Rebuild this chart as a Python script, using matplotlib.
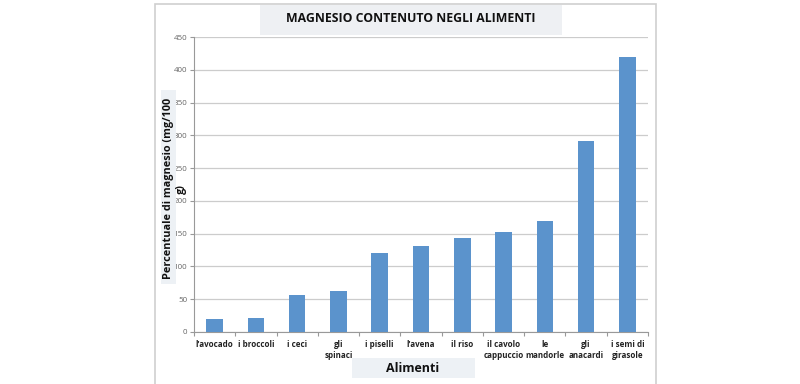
import matplotlib.pyplot as plt
import matplotlib.patches as patches
import numpy as np

plt.rcParams['font.family'] = ['Open Sans', 'DejaVu Sans']

alimenti = ["l'avocado", "i broccoli", "i ceci", "gli\nspinaci", "i piselli", "l'avena",
            "il riso", "il cavolo\ncappuccio", "le\nmandorle", "gli\nanacardi", "i semi di\ngirasole"]
magnesio = [20, 21, 56, 62, 120, 131, 143, 152, 170, 292, 420]
yticks = [0, 50, 100, 150, 200, 250, 300, 350, 400, 450]

fig = plt.figure(figsize=(8, 3.84), dpi=100)

# outer frame
fig.patches.append(patches.Rectangle((155 / 800, -0.01), (656 - 155) / 800, (384 - 4) / 384 + 0.01,
                                     transform=fig.transFigure, fill=False,
                                     edgecolor='#cfcfcf', linewidth=1.2))

ax = fig.add_axes([194 / 800, 52 / 384, (648 - 194) / 800, (332 - 37) / 384])
x = np.arange(len(alimenti))
ax.bar(x, magnesio, width=0.4, color='#5b93cc', zorder=3)

ax.set_xlim(-0.5, len(alimenti) - 0.5)
ax.set_ylim(0, 450)
ax.set_yticks(yticks)
ax.set_yticklabels([str(v) for v in yticks], fontsize=5.8, color='#666666')
ax.yaxis.grid(True, color='#cccccc', linewidth=0.9, zorder=0)
ax.tick_params(axis='y', length=3, color='#999999', width=0.8, pad=2)

ax.set_xticks(np.arange(-0.5, len(alimenti), 1.0))
ax.set_xticklabels([])
ax.tick_params(axis='x', length=3, color='#999999', width=0.8)
for i, lab in enumerate(alimenti):
    ax.text(i, -12, lab, ha='center', va='top', fontsize=5.8, fontweight='bold',
            color='#222222', linespacing=1.3)

for s in ['top', 'right']:
    ax.spines[s].set_visible(False)
ax.spines['left'].set_color('#999999')
ax.spines['bottom'].set_color('#999999')
ax.spines['left'].set_linewidth(0.8)
ax.spines['bottom'].set_linewidth(0.8)

# title box
fig.patches.append(patches.Rectangle((260 / 800, (384 - 35) / 384), (562 - 260) / 800, 30 / 384,
                                     transform=fig.transFigure, facecolor='#eef0f3', edgecolor='none'))
fig.text(411 / 800, (384 - 19) / 384, 'MAGNESIO CONTENUTO NEGLI ALIMENTI', ha='center', va='center',
         fontsize=8.8, fontweight='bold', color='#111111')

# y label box
fig.patches.append(patches.Rectangle((161 / 800, (384 - 284) / 384), 15 / 800, 194 / 384,
                                     transform=fig.transFigure, facecolor='#edf1f5', edgecolor='none'))
fig.text(169 / 800, (384 - 188) / 384, 'Percentuale di magnesio (mg/100', rotation=90,
         ha='center', va='center', fontsize=7.8, fontweight='bold', color='#111111')
fig.text(181 / 800, (384 - 189) / 384, 'g)', rotation=90,
         ha='center', va='center', fontsize=7.8, fontweight='bold', color='#111111')

# x label box
fig.patches.append(patches.Rectangle((352 / 800, (384 - 378) / 384), (475 - 352) / 800, 20 / 384,
                                     transform=fig.transFigure, facecolor='#edf1f5', edgecolor='none'))
fig.text(413 / 800, (384 - 368) / 384, 'Alimenti', ha='center', va='center',
         fontsize=9, fontweight='bold', color='#111111')

fig.savefig('out.png', dpi=100)
